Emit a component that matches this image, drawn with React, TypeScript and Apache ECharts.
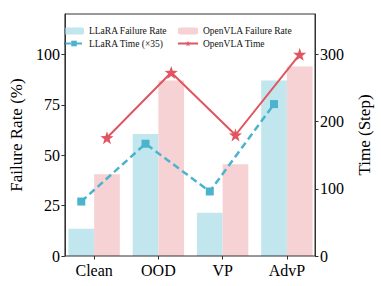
import React, { useEffect, useRef } from "react";
import * as echarts from "echarts";

const categories = ["Clean", "OOD", "VP", "AdvP"];
const llaraFailure = [13.5, 60.5, 21.5, 87];
const openvlaFailure = [40.5, 87, 45.5, 94];
const llaraTime = [81, 167, 96, 226];
const openvlaTime = [176, 273, 180, 300];
const leftTicks = [0, 25, 50, 75, 100];
const rightTicks = [0, 100, 200, 300];

const FONT = "Liberation Serif";
const STAR =
  "path://M0,-10 L2.35,-3.24 L9.51,-3.09 L3.8,1.24 L5.88,8.09 L0,4 L-5.88,8.09 L-3.8,1.24 L-9.51,-3.09 L-2.35,-3.24 Z";

export default function App() {
  const ref = useRef<HTMLDivElement>(null);
  useEffect(() => {
    if (!ref.current) return;
    const chart = echarts.init(ref.current, null, { renderer: "svg" });
    const axisColor = "#333";
    const legendText = { fontFamily: FONT, fontSize: 9.5, color: "#111" };
    const barL = 62;
    const barR = 62;
    const shift = 12.85;
    chart.setOption({
      animation: false,
      textStyle: { fontFamily: FONT },
      grid: [
        {
          left: 56,
          right: 58,
          top: 14,
          bottom: 30,
          show: true,
          borderColor: axisColor,
          borderWidth: 1,
          backgroundColor: "transparent",
          z: 10,
        },
        { left: barL, right: barR, top: 14, bottom: 30 },
        { left: barL - shift, right: barR + shift, top: 14, bottom: 30 },
        { left: barL + shift, right: barR - shift, top: 14, bottom: 30 },
      ],
      legend: [
        {
          orient: "vertical",
          left: 58,
          top: 21,
          itemWidth: 20,
          itemHeight: 7,
          itemGap: 2.5,
          textStyle: legendText,
          data: [{ name: "LLaRA Failure Rate" }, { name: "LLaRA Time (×35)" }],
        },
        {
          orient: "vertical",
          left: 172,
          top: 21,
          itemWidth: 20,
          itemHeight: 7,
          itemGap: 2.5,
          textStyle: legendText,
          data: [{ name: "OpenVLA Failure Rate" }, { name: "OpenVLA Time" }],
        },
      ],
      xAxis: [
        { type: "value", gridIndex: 0, min: 0, max: 1, show: false },
        {
          type: "category",
          gridIndex: 1,
          data: categories,
          axisLine: { show: false },
          axisTick: { show: true, alignWithLabel: true, length: 3.5, lineStyle: { color: axisColor } },
          axisLabel: { fontFamily: FONT, fontSize: 16, color: "#000", margin: 6 },
        },
        { type: "category", gridIndex: 2, data: categories, show: false },
        { type: "category", gridIndex: 3, data: categories, show: false },
      ],
      yAxis: [
        {
          type: "value",
          gridIndex: 0,
          min: 0,
          max: 120,
          name: "Failure Rate (%)",
          nameLocation: "middle",
          nameRotate: 90,
          nameGap: 33,
          nameTextStyle: { fontFamily: FONT, fontSize: 17, color: "#000" },
          splitLine: { show: false },
          axisLine: { show: true, onZero: false, lineStyle: { color: axisColor } },
          axisTick: { show: true, length: 3.5, customValues: leftTicks, lineStyle: { color: axisColor } },
          axisLabel: { customValues: leftTicks, fontFamily: FONT, fontSize: 16, color: "#000", margin: 5 },
        },
        {
          type: "value",
          gridIndex: 0,
          min: 0,
          max: 360,
          position: "right",
          name: "Time (Step)",
          nameLocation: "middle",
          nameRotate: 90,
          nameGap: 41,
          nameTextStyle: { fontFamily: FONT, fontSize: 17, color: "#000" },
          splitLine: { show: false },
          axisLine: { show: true, onZero: false, lineStyle: { color: axisColor } },
          axisTick: { show: true, length: 3.5, customValues: rightTicks, lineStyle: { color: axisColor } },
          axisLabel: { customValues: rightTicks, fontFamily: FONT, fontSize: 16, color: "#000", margin: 5 },
        },
        { type: "value", gridIndex: 1, min: 0, max: 120, show: false },
        { type: "value", gridIndex: 2, min: 0, max: 360, show: false },
        { type: "value", gridIndex: 3, min: 0, max: 360, show: false },
      ],
      series: [
        {
          name: "LLaRA Failure Rate",
          type: "bar",
          xAxisIndex: 1,
          yAxisIndex: 2,
          barWidth: "40%",
          barGap: "0%",
          itemStyle: { color: "#c2e6ee" },
          data: llaraFailure,
          z: 2,
        },
        {
          name: "OpenVLA Failure Rate",
          type: "bar",
          xAxisIndex: 1,
          yAxisIndex: 2,
          barWidth: "40%",
          barGap: "0%",
          itemStyle: { color: "#f6d2d4" },
          data: openvlaFailure,
          z: 2,
        },
        {
          name: "LLaRA Time (×35)",
          type: "line",
          xAxisIndex: 2,
          yAxisIndex: 3,
          symbol: "rect",
          symbolSize: 8,
          itemStyle: { color: "#4bb3cd" },
          lineStyle: { color: "#4bb3cd", width: 2.5, type: [7, 4] },
          data: llaraTime,
          z: 5,
        },
        {
          name: "OpenVLA Time",
          type: "line",
          xAxisIndex: 3,
          yAxisIndex: 4,
          symbol: STAR,
          symbolSize: 13,
          itemStyle: { color: "#e0555f" },
          lineStyle: { color: "#e0555f", width: 2 },
          data: openvlaTime,
          z: 6,
        },
      ],
    });
    return () => chart.dispose();
  }, []);
  return (
    <div
      ref={ref}
      style={{ width: 381, height: 286, position: "absolute", left: 0, top: 0, background: "#fff" }}
    />
  );
}
